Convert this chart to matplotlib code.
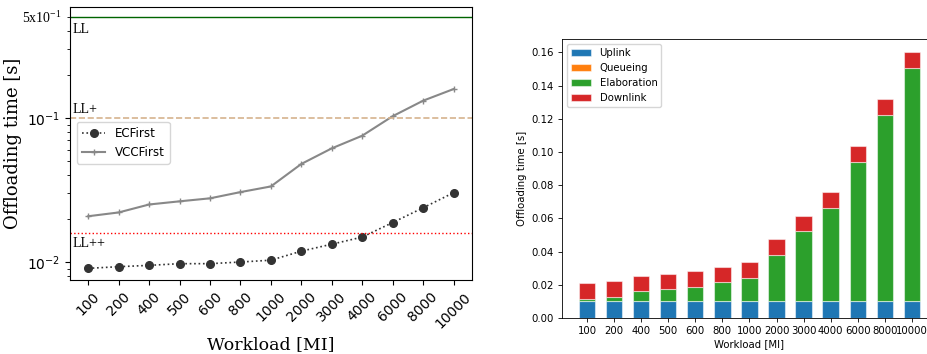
import numpy as np
import matplotlib
matplotlib.use("Agg")
import matplotlib.pyplot as plt

# ---------------------------
# Data
# ---------------------------
workloads = ["100", "200", "400", "500", "600", "800", "1000",
             "2000", "3000", "4000", "6000", "8000", "10000"]

ecfirst = [0.00904, 0.00928, 0.00948, 0.00974, 0.00974, 0.0100, 0.0103,
           0.0119, 0.0133, 0.0149, 0.0188, 0.0238, 0.0303]
vccfirst = [0.0208, 0.0221, 0.0251, 0.0264, 0.0277, 0.0306, 0.0335,
            0.0480, 0.0616, 0.0754, 0.1030, 0.1320, 0.1590]

# latency limits
ll_values = [0.5, 0.1, 0.016]
ll_names = ["LL", "LL+", "LL++"]

# breakdown of offloading time (VCCFirst)
uplink = [0.0100] * 13
queueing = [0.0] * 13
elaboration = [0.0014, 0.0028, 0.0060, 0.0074, 0.0088, 0.0114, 0.0142,
               0.0282, 0.0422, 0.0564, 0.0842, 0.1124, 0.1408]
downlink = [0.0094, 0.0094, 0.0094, 0.0090, 0.0094, 0.0094, 0.0094,
            0.0096, 0.0092, 0.0096, 0.0096, 0.0094, 0.0094]

# ---------------------------
# Figure
# ---------------------------
fig = plt.figure(figsize=(9.28, 3.54), dpi=100)
ax1 = fig.add_axes([0.0754, 0.209, 0.433, 0.771])
ax2 = fig.add_axes([0.6056, 0.1017, 0.404, 0.789])

x = np.arange(len(workloads))

# ---------------------------
# Left: log plot
# ---------------------------
ax1.plot(x, ecfirst, linestyle=":", color="#333333", marker="o",
         markersize=5.5, linewidth=1.2, label="ECFirst")
ax1.plot(x, vccfirst, linestyle="-", color="#888888", marker="+",
         markersize=5, linewidth=1.5, label="VCCFirst")

ax1.axhline(ll_values[0], color="darkgreen", linewidth=1)
ax1.axhline(ll_values[1], color="#d6b38e", linestyle="--", linewidth=1.2)
ax1.axhline(ll_values[2], color="red", linestyle=":", linewidth=1)

ax1.set_yscale("log")
ax1.set_ylim(0.0075, 0.59)
ax1.set_xticks(x)
ax1.set_xticklabels(workloads, rotation=45, fontsize=10)
ax1.tick_params(axis="y", labelsize=10)

serif = "Liberation Serif"
ax1.text(-0.5, 0.455, ll_names[0], fontsize=10, family=serif, va="top", ha="left")
ax1.text(-0.5, 0.103, ll_names[1], fontsize=10, family=serif, va="bottom", ha="left")
ax1.text(-0.5, 0.0149, ll_names[2], fontsize=10, family=serif, va="top", ha="left")
ax1.text(-0.02, 0.5, r"5x10$^{\mathregular{-1}}$", fontsize=10, family=serif,
         ha="right", va="center", transform=ax1.get_yaxis_transform())

ax1.set_xlabel("Workload [MI]", family="DejaVu Serif", fontsize=12.5)
ax1.set_ylabel("Offloading time [s]", family="DejaVu Serif", fontsize=13)
ax1.legend(loc="upper left", bbox_to_anchor=(0.017, 0.579), borderaxespad=0,
           fontsize=8.6)

# ---------------------------
# Right: stacked bars
# ---------------------------
fs = 7.3
edge = (1, 1, 1, 0.5)
bottom = np.zeros(len(workloads))
for vals, name, col in [(uplink, "Uplink", "tab:blue"),
                        (queueing, "Queueing", "tab:orange"),
                        (elaboration, "Elaboration", "tab:green"),
                        (downlink, "Downlink", "tab:red")]:
    ax2.bar(x, vals, 0.6, bottom=bottom, color=col, label=name,
            edgecolor=edge, linewidth=0.8)
    bottom += np.array(vals)

ax2.set_xticks(x)
ax2.set_xticklabels(workloads)
ax2.tick_params(labelsize=fs, width=0.6, length=2.6)
for s in ax2.spines.values():
    s.set_linewidth(0.6)
ax2.set_xlabel("Workload [MI]", fontsize=fs, labelpad=2)
ax2.set_ylabel("Offloading time [s]", fontsize=fs, labelpad=3)
ax2.legend(loc="upper left", fontsize=fs)

fig.savefig("out.png", dpi=100)
